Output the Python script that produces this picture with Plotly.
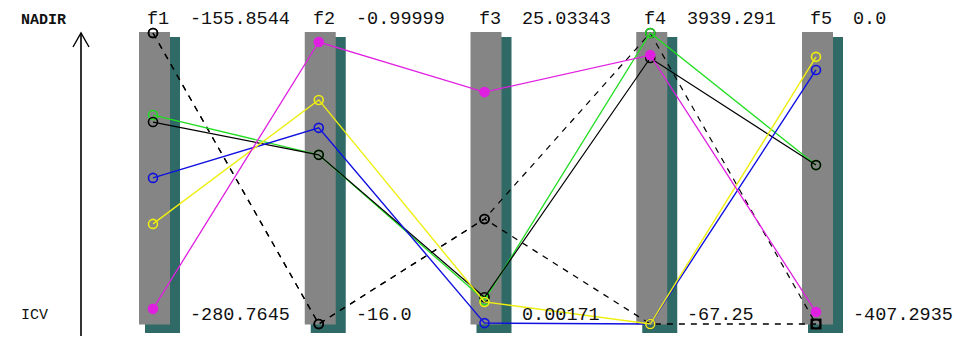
import plotly.graph_objects as go

# Objective axes with their NADIR (top) and ICV (bottom) values
objectives = ["f1", "f2", "f3", "f4", "f5"]
nadir = [-155.8544, -0.99999, 25.03343, 3939.291, 0.0]
icv = [-280.7645, -16.0, 0.00171, -67.25, -407.2935]
nadir_labels = ["-155.8544", "-0.99999", "25.03343", "3939.291", "0.0"]
icv_labels = ["-280.7645", "-16.0", "0.00171", "-67.25", "-407.2935"]

# Solutions, one value per objective
sol_dash_a = [-155.8544, -16.0, 9.04, 3939.291, -407.2935]
sol_dash_b = [-155.8544, -16.0, 9.04, -67.25, -407.2935]
sol_green = [-191.08, -7.28, 2.05, 3939.291, -184.91]
sol_black = [-194.08, -7.28, 2.30, 3594.7, -184.91]
sol_blue = [-218.06, -5.89, 0.08, -67.25, -51.73]
sol_yellow = [-237.79, -4.45, 1.90, -67.25, -33.39]
sol_magenta = [-274.27, -1.465, 19.95, 3634.79, -390.59]

W, H = 961, 340
STEP = 165.75          # pixels between axes
X0 = 153               # pixel x of the first axis
Y_TOP, Y_BOT = 33, 324  # pixel y of NADIR and ICV


def norm(vals):
    return [(v - lo) / (hi - lo) for v, lo, hi in zip(vals, icv, nadir)]


def px(x):
    return x / W


def py(y):
    return 1 - y / H


idx = list(range(len(objectives)))
fig = go.Figure()

# Axis bars: a teal drop shadow under a grey bar
dxu = 1 / STEP
dyu = 1 / (Y_BOT - Y_TOP)
for i in idx:
    fig.add_shape(type="rect", xref="x", yref="y", layer="below",
                  x0=i - 8 * dxu, x1=i + 27 * dxu,
                  y0=-9 * dyu, y1=1 - 4 * dyu,
                  fillcolor="#2f6a66", line_width=0)
    fig.add_shape(type="rect", xref="x", yref="y", layer="below",
                  x0=i - 14 * dxu, x1=i + 17 * dxu,
                  y0=-0.5 * dyu, y1=1 + 1 * dyu,
                  fillcolor="#858585", line_width=0)

open_circles = ["circle-open"] * len(objectives)
last_square = ["circle-open"] * (len(objectives) - 1) + ["square-open"]
series = [
    (sol_dash_b, "#000000", "dash", last_square, 1.3),
    (sol_dash_a, "#000000", "dash", open_circles, 1.2),
    (sol_green, "#22dd22", "solid", open_circles, 1.3),
    (sol_black, "#000000", "solid", open_circles, 1.2),
    (sol_blue, "#1010e0", "solid", open_circles, 1.4),
    (sol_yellow, "#eeee10", "solid", open_circles, 1.4),
    (sol_magenta, "#e020e0", "solid", ["circle"] * len(objectives), 1.3),
]
for vals, color, dash, symbols, lw in series:
    fig.add_trace(go.Scatter(
        x=idx, y=norm(vals), mode="lines+markers",
        line=dict(color=color, width=lw,
                  dash="6px,6px" if dash == "dash" else "solid"),
        marker=dict(symbol=symbols, size=9, color=color,
                    line=dict(color=color, width=1.6)),
        showlegend=False, hoverinfo="skip"))

# Keep the square end marker of the second dashed solution visible
fig.add_trace(go.Scatter(
    x=[idx[-1]], y=[norm(sol_dash_b)[-1]], mode="markers",
    marker=dict(symbol="square-open", size=9, color="#000000",
                line=dict(color="#000000", width=1.6)),
    showlegend=False, hoverinfo="skip"))

label_font = dict(family="Liberation Mono", size=18.5, color="#111111")
annotations = []
for i, name in enumerate(objectives):
    annotations.append(dict(x=i - 8 * dxu, y=1 + 14 * dyu, xref="x", yref="y",
                            text=name, showarrow=False, xanchor="left",
                            yanchor="middle", font=label_font))
    annotations.append(dict(x=i + 35 * dxu, y=1 + 14 * dyu, xref="x", yref="y",
                            text=nadir_labels[i], showarrow=False,
                            xanchor="left", yanchor="middle", font=label_font))
    annotations.append(dict(x=i + 35 * dxu, y=9 * dyu, xref="x", yref="y",
                            text=icv_labels[i], showarrow=False,
                            xanchor="left", yanchor="middle", font=label_font))

annotations.append(dict(x=px(19), y=py(20), xref="paper", yref="paper",
                        text="<b>NADIR</b>", showarrow=False, xanchor="left",
                        yanchor="middle",
                        font=dict(family="Liberation Mono", size=15, color="#111111")))
annotations.append(dict(x=px(19), y=py(315), xref="paper", yref="paper",
                        text="ICV", showarrow=False, xanchor="left",
                        yanchor="middle",
                        font=dict(family="Liberation Mono", size=15, color="#111111")))

# Direction arrow on the left
fig.add_shape(type="line", xref="paper", yref="paper",
              x0=px(81), x1=px(81), y0=py(33), y1=py(336),
              line=dict(color="#000000", width=1.6))
fig.add_shape(type="path", xref="paper", yref="paper",
              path=f"M {px(73)},{py(47)} L {px(81)},{py(33)} L {px(89)},{py(47)}",
              line=dict(color="#000000", width=1.4))

fig.update_layout(
    width=W, height=H,
    margin=dict(l=0, r=0, t=0, b=0),
    paper_bgcolor="#ffffff", plot_bgcolor="#ffffff",
    xaxis=dict(range=[-X0 / STEP, (W - X0) / STEP], visible=False,
               fixedrange=True),
    yaxis=dict(range=[(Y_BOT - H) / (Y_BOT - Y_TOP), Y_BOT / (Y_BOT - Y_TOP)],
               visible=False, fixedrange=True),
    annotations=annotations,
)

fig.write_html("out.html", config={"displayModeBar": False})
